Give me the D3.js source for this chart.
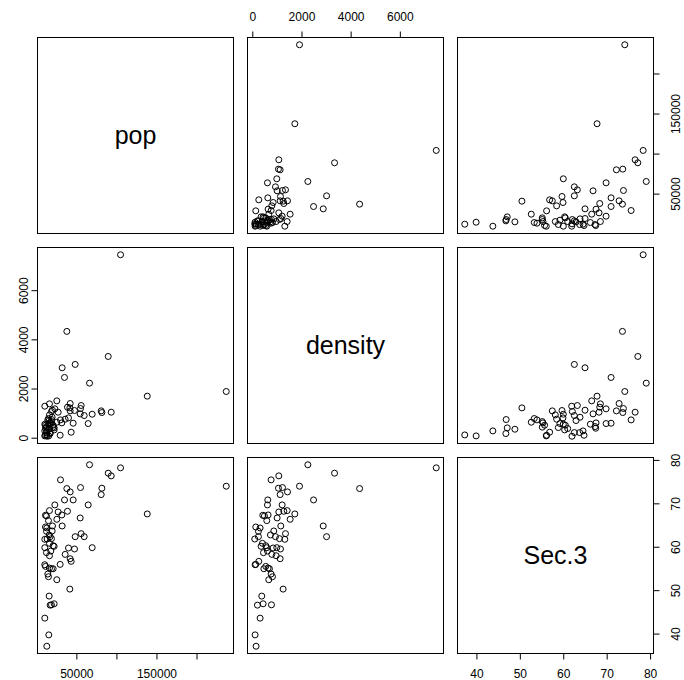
<!DOCTYPE html>
<html>
<head>
<meta charset="utf-8">
<script src="https://cdn.jsdelivr.net/npm/d3@7"></script>
<style>
  body { margin: 0; background: #fff; }
  svg { display: block; }
  text { font-family: "Liberation Sans", Arial, Helvetica, sans-serif; fill: #000; }
</style>
</head>
<body>
<svg id="chart" width="684" height="680"></svg>
<script>
// Scatterplot matrix of three variables
const varNames = ["pop", "density", "Sec.3"];

const pop = [65790, 104540, 89125, 92875, 29540, 236500, 37460, 54540, 81210, 41625,
  80375, 34540, 45375, 64125, 22460, 15790, 26625, 38290, 137875, 10790,
  12040, 31210, 54125, 24960, 14540, 10790, 19540, 31625, 12460, 12040,
  19125, 15375, 55375, 59125, 47875, 16625, 9960, 12875, 18290, 15790,
  9960, 20375, 21625, 39540, 47040, 69125, 12040, 17460, 15790, 35375,
  41625, 42875, 9900, 10790, 29125, 15790, 18290, 20375, 13710, 14540,
  24960, 41210, 15375, 16625, 21625, 18290, 9960, 14960, 12460];

const density = [2239, 7460, 3325, 1058, 745, 1900, 4344, 1207, 1044, 1411,
  1112, 2470, 610, 596, 1194, 1397, 1058, 1261, 1710, 406,
  474, 623, 990, 1519, 569, 121, 1139, 2864, 297, 229,
  854, 718, 1329, 922, 3000, 229, 1302, 80, 1085, 392,
  569, 528, 338, 827, 1126, 976, 433, 596, 949, 773,
  1112, 243, 94, 528, 121, 623, 677, 450, 745, 800,
  650, 1234, 365, 189, 420, 759, 297, 94, 134];

const sec3 = [79.0, 78.29, 77.06, 76.44, 75.52, 74.06, 73.52, 73.75, 73.60, 72.75,
  72.13, 70.90, 70.90, 69.75, 69.75, 68.44, 68.13, 68.29, 67.67, 67.37,
  67.21, 67.44, 66.75, 66.44, 66.13, 64.67, 64.90, 64.90, 64.44, 63.67,
  63.75, 62.83, 63.13, 62.44, 62.44, 62.44, 61.83, 61.90, 61.98, 60.90,
  59.90, 60.36, 60.21, 59.83, 59.60, 59.90, 58.75, 59.13, 58.05, 58.36,
  57.36, 56.75, 55.98, 55.59, 56.05, 55.21, 55.05, 55.05, 53.83, 53.21,
  52.52, 50.36, 48.75, 46.67, 46.98, 46.74, 43.67, 39.82, 37.20];

const popTicks = [50000, 100000, 150000, 200000];
const popTickLabels = ["50000", "", "150000", ""];
const densityTicks = [0, 2000, 4000, 6000];
const densityTickLabels = ["0", "2000", "4000", "6000"];
const sec3Ticks = [40, 50, 60, 70, 80];
const sec3TickLabels = ["40", "50", "60", "70", "80"];

const columns = [pop, density, sec3];
const tickSets = [
  { ticks: popTicks, labels: popTickLabels },
  { ticks: densityTicks, labels: densityTickLabels },
  { ticks: sec3Ticks, labels: sec3TickLabels }
];

// panel geometry
const size = 196, gap = 14, origin = 37.5;
const pos = k => origin + k * (size + gap);

// each variable's range is widened by 4% on both ends
function padded(vals) {
  const [lo, hi] = d3.extent(vals);
  const p = (hi - lo) * 0.04;
  return [lo - p, hi + p];
}
const xScales = columns.map(v => d3.scaleLinear().domain(padded(v)).range([0, size]));
const yScales = columns.map(v => d3.scaleLinear().domain(padded(v)).range([size, 0]));

const svg = d3.select("#chart");
svg.append("rect").attr("width", 684).attr("height", 680).attr("fill", "#fff");

const n = columns.length;
for (let i = 0; i < n; i++) {
  for (let j = 0; j < n; j++) {
    const g = svg.append("g").attr("transform", `translate(${pos(j)},${pos(i)})`);
    if (i === j) {
      g.append("text")
        .attr("x", size / 2).attr("y", size / 2)
        .attr("dy", "0.35em")
        .attr("text-anchor", "middle")
        .attr("font-size", 25)
        .text(varNames[i]);
    } else {
      const xs = xScales[j], ys = yScales[i];
      const xv = columns[j], yv = columns[i];
      g.selectAll("circle").data(d3.range(xv.length)).join("circle")
        .attr("cx", k => xs(xv[k]))
        .attr("cy", k => ys(yv[k]))
        .attr("r", 3)
        .attr("fill", "none")
        .attr("stroke", "#000")
        .attr("stroke-width", 1);
    }
    g.append("rect")
      .attr("width", size).attr("height", size)
      .attr("fill", "none").attr("stroke", "#000").attr("stroke-width", 1);
  }
}

// axes: alternate sides like a classic pairs plot
const tickLen = 6;
function horizontalAxis(k, row, side) {
  const s = xScales[k], { ticks, labels } = tickSets[k];
  const y0 = side === "bottom" ? pos(row) + size : pos(row);
  const dir = side === "bottom" ? 1 : -1;
  const g = svg.append("g").attr("transform", `translate(${pos(k)},${y0})`);
  g.append("line")
    .attr("x1", s(ticks[0])).attr("x2", s(ticks[ticks.length - 1]))
    .attr("stroke", "#000");
  ticks.forEach((t, m) => {
    g.append("line")
      .attr("x1", s(t)).attr("x2", s(t))
      .attr("y1", 0).attr("y2", dir * tickLen)
      .attr("stroke", "#000");
    if (labels[m]) {
      g.append("text")
        .attr("x", s(t))
        .attr("y", side === "bottom" ? 16 : -17)
        .attr("dy", side === "bottom" ? "0.72em" : "0")
        .attr("text-anchor", "middle")
        .attr("font-size", 12)
        .text(labels[m]);
    }
  });
}
function verticalAxis(k, col, side, labelOffset) {
  const s = yScales[k], { ticks, labels } = tickSets[k];
  const x0 = side === "right" ? pos(col) + size : pos(col);
  const dir = side === "right" ? 1 : -1;
  const g = svg.append("g").attr("transform", `translate(${x0},${pos(k)})`);
  g.append("line")
    .attr("y1", s(ticks[0])).attr("y2", s(ticks[ticks.length - 1]))
    .attr("stroke", "#000");
  ticks.forEach((t, m) => {
    g.append("line")
      .attr("y1", s(t)).attr("y2", s(t))
      .attr("x1", 0).attr("x2", dir * tickLen)
      .attr("stroke", "#000");
    if (labels[m]) {
      g.append("text")
        .attr("transform", `translate(${dir * labelOffset},${s(t)}) rotate(-90)`)
        .attr("dy", "0.35em")
        .attr("text-anchor", "middle")
        .attr("font-size", 12)
        .text(labels[m]);
    }
  });
}

horizontalAxis(0, 2, "bottom"); // pop under first column
horizontalAxis(1, 0, "top");    // density over second column
horizontalAxis(2, 2, "bottom"); // Sec.3 under third column
verticalAxis(0, 2, "right", 22); // pop on the right of first row
verticalAxis(1, 0, "left", 14);  // density on the left of second row
verticalAxis(2, 2, "right", 22); // Sec.3 on the right of third row
</script>
</body>
</html>
